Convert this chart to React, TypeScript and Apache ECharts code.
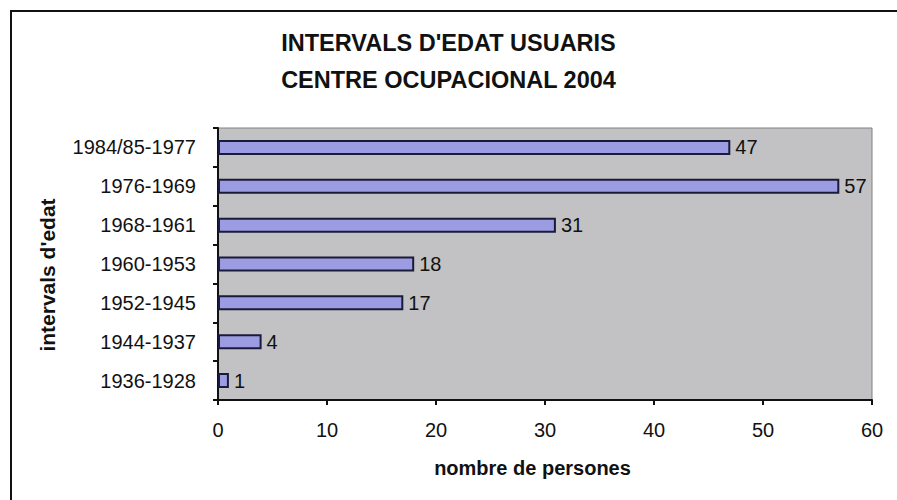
import React, { useEffect, useRef } from "react";
import * as echarts from "echarts";

const categories = [
  "1936-1928",
  "1944-1937",
  "1952-1945",
  "1960-1953",
  "1968-1961",
  "1976-1969",
  "1984/85-1977",
];
const values = [1, 4, 17, 18, 31, 57, 47];
const titleLines = ["INTERVALS D'EDAT USUARIS", "CENTRE OCUPACIONAL 2004"];
const xAxisName = "nombre de persones";
const yAxisName = "intervals d'edat";

const FONT = "'Liberation Sans', Arial, sans-serif";

export default function App() {
  const ref = useRef<HTMLDivElement>(null);
  useEffect(() => {
    if (!ref.current) return;
    const chart = echarts.init(ref.current, undefined, { renderer: "svg" });
    chart.setOption({
      animation: false,
      backgroundColor: "#ffffff",
      textStyle: { fontFamily: FONT },
      title: {
        text: titleLines.join("\n"),
        left: "center",
        top: 24,
        padding: 0,
        textStyle: {
          fontFamily: FONT,
          fontSize: 23.5,
          fontWeight: "bold",
          color: "#111",
          lineHeight: 37,
        },
      },
      graphic: [
        {
          type: "rect",
          shape: { x: 11, y: 11, width: 920, height: 520 },
          style: { fill: "none", stroke: "#111", lineWidth: 2 },
          silent: true,
          z: 100,
        },
        {
          type: "text",
          x: 47,
          y: 275,
          rotation: Math.PI / 2,
          style: {
            text: yAxisName,
            font: `bold 21px ${FONT}`,
            fill: "#111",
            textAlign: "center",
            textVerticalAlign: "middle",
          },
        },
      ],
      grid: {
        left: 218,
        top: 128,
        right: 25,
        bottom: 100,
        show: true,
        backgroundColor: "#c2c2c4",
        borderColor: "#808080",
        borderWidth: 1,
      },
      xAxis: {
        type: "value",
        min: 0,
        max: 60,
        interval: 10,
        name: xAxisName,
        nameLocation: "middle",
        nameGap: 58,
        nameTextStyle: {
          fontFamily: FONT,
          fontSize: 20,
          fontWeight: "bold",
          color: "#111",
          padding: [0, 25, 0, 0],
        },
        axisLine: { show: true, lineStyle: { color: "#111", width: 2 } },
        axisTick: { show: true, length: 5, lineStyle: { color: "#111", width: 2 } },
        axisLabel: { fontFamily: FONT, fontSize: 20, color: "#111", margin: 20 },
        splitLine: { show: false },
      },
      yAxis: {
        type: "category",
        data: categories,
        axisLine: { show: true, lineStyle: { color: "#111", width: 2 } },
        axisTick: { show: true, length: 5, lineStyle: { color: "#111", width: 2 } },
        axisLabel: { fontFamily: FONT, fontSize: 20, color: "#111", margin: 22 },
        splitLine: { show: false },
      },
      series: [
        {
          type: "bar",
          data: values,
          barWidth: 15,
          itemStyle: {
            color: "#9c9ce2",
            borderColor: "#1a1a3a",
            borderWidth: 2,
          },
          label: {
            show: true,
            position: "right",
            distance: 5,
            fontFamily: FONT,
            fontSize: 20,
            color: "#111",
          },
        },
      ],
    });
    return () => chart.dispose();
  }, []);
  return (
    <div
      ref={ref}
      style={{ position: "fixed", left: 0, top: 0, width: 897, height: 500 }}
    />
  );
}
